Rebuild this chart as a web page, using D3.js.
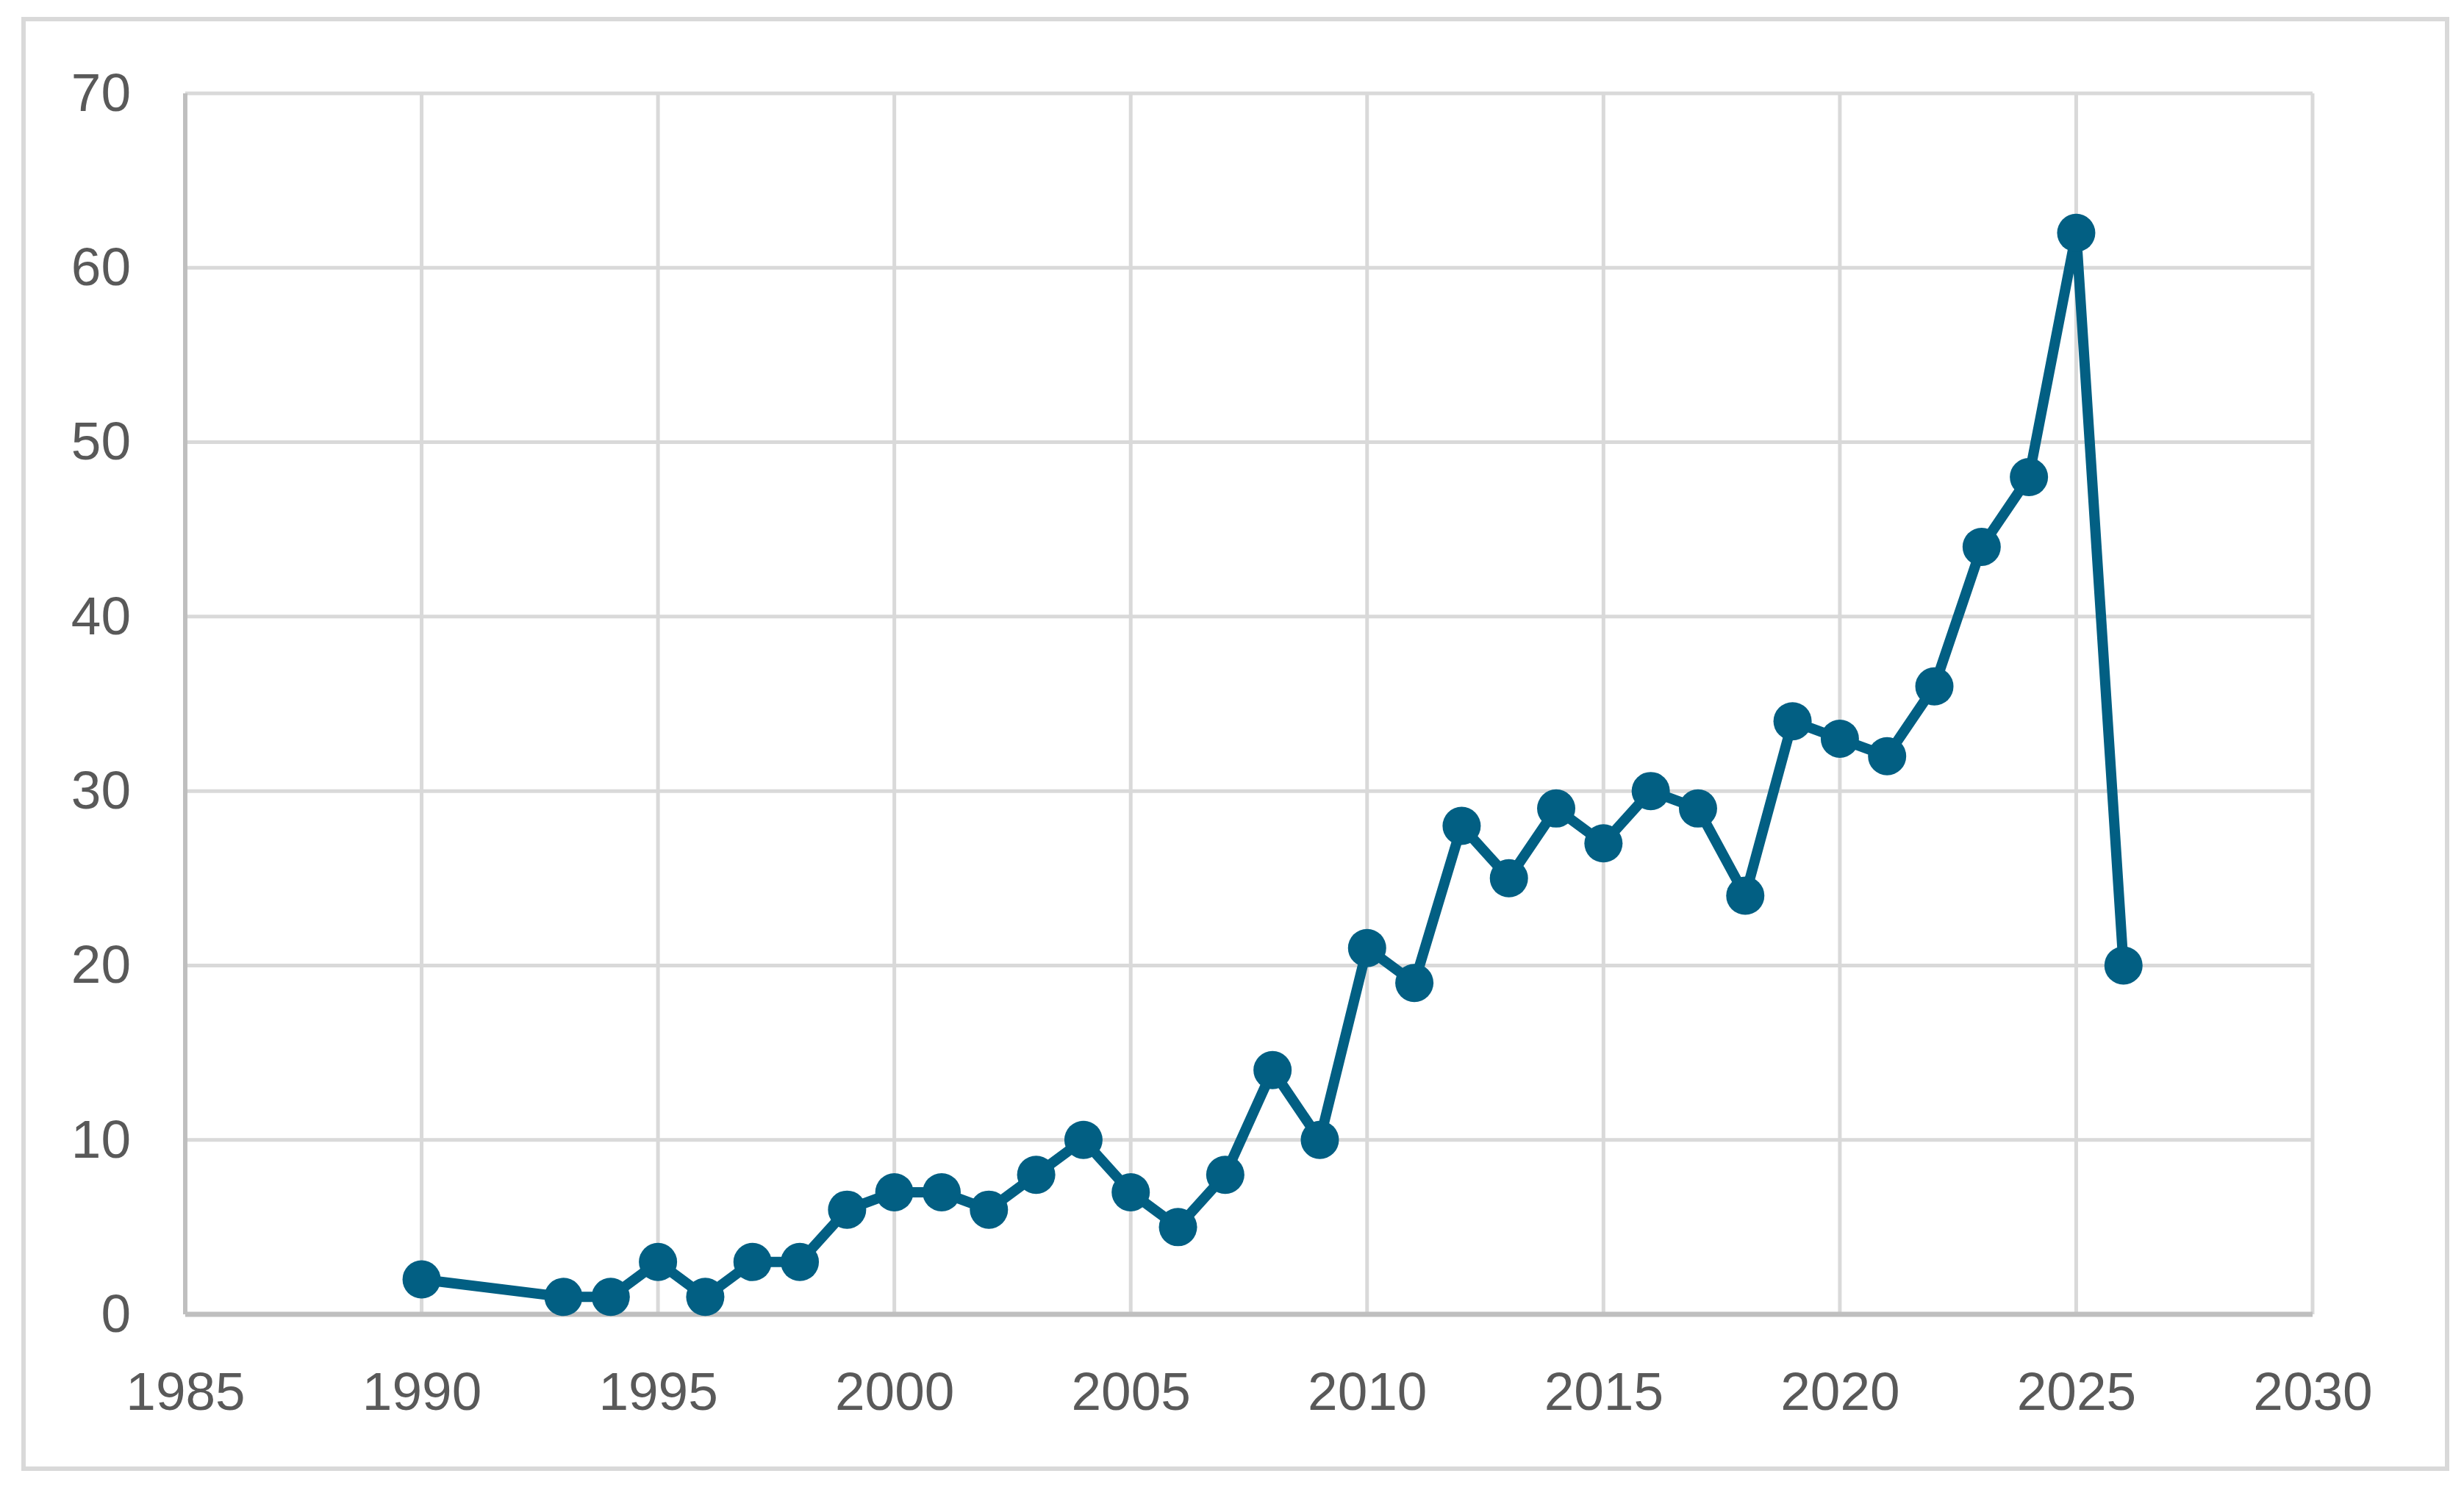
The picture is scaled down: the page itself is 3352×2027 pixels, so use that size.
<html>
<head>
    <title>Line chart</title>
    <script src="https://d3js.org/d3.v7.min.js"></script>
    <style>
        body { margin: 0; background: #fff; }
        svg { font-family: "Liberation Sans", Arial, sans-serif; }
        .grid line { stroke: #d9d9d9; stroke-width: 5; }
        .axis path, .axis line { display: none; }
        .axis text { fill: #595959; font-size: 73px; }
        .line { fill: none; stroke: #025f83; stroke-width: 14; stroke-linejoin: round; }
        .dot { fill: #025f83; }
    </style>
</head>
<body>
<div id="chart"></div>
<script>
    // data
    var years  = [1990, 1993, 1994, 1995, 1996, 1997, 1998, 1999, 2000, 2001, 2002, 2003,
                  2004, 2005, 2006, 2007, 2008, 2009, 2010, 2011, 2012, 2013, 2014, 2015,
                  2016, 2017, 2018, 2019, 2020, 2021, 2022, 2023, 2024, 2025, 2026];
    var counts = [2, 1, 1, 3, 1, 3, 3, 6, 7, 7, 6, 8,
                  10, 7, 5, 8, 14, 10, 21, 19, 28, 25, 29, 27,
                  30, 29, 24, 34, 33, 32, 36, 44, 48, 62, 20];
    var xTicks = [1985, 1990, 1995, 2000, 2005, 2010, 2015, 2020, 2025, 2030];
    var yTicks = [0, 10, 20, 30, 40, 50, 60, 70];

    var width = 3352, height = 2027;
    var plotLeft = 252, plotRight = 3146, plotTop = 127, plotBottom = 1788;

    var data = years.map((yr, i) => ({ year: yr, value: counts[i] }));

    var xScale = d3.scaleLinear().domain([1985, 2030]).range([plotLeft, plotRight]);
    var yScale = d3.scaleLinear().domain([0, 70]).range([plotBottom, plotTop]);

    var svg = d3.select("#chart").append("svg")
        .attr("width", width)
        .attr("height", height);

    svg.append("rect")
        .attr("x", 32).attr("y", 26)
        .attr("width", 3329 - 32).attr("height", 1998 - 26)
        .attr("fill", "#fff")
        .attr("stroke", "#d9d9d9")
        .attr("stroke-width", 6);

    /* gridlines */
    var grid = svg.append("g").attr("class", "grid");
    grid.selectAll(".vg").data(xTicks).enter().append("line")
        .attr("x1", d => xScale(d)).attr("x2", d => xScale(d))
        .attr("y1", plotTop).attr("y2", plotBottom);
    grid.selectAll(".hg").data(yTicks).enter().append("line")
        .attr("x1", plotLeft).attr("x2", plotRight)
        .attr("y1", d => yScale(d)).attr("y2", d => yScale(d));

    // axis lines are a bit darker
    svg.append("line")
        .attr("x1", plotLeft).attr("x2", plotLeft).attr("y1", plotTop).attr("y2", plotBottom)
        .attr("stroke", "#bfbfbf").attr("stroke-width", 6);
    svg.append("line")
        .attr("x1", plotLeft).attr("x2", plotRight).attr("y1", plotBottom).attr("y2", plotBottom)
        .attr("stroke", "#bfbfbf").attr("stroke-width", 7);

    /* axes */
    svg.append("g")
        .attr("class", "axis")
        .attr("transform", `translate(0, ${plotBottom})`)
        .call(d3.axisBottom(xScale).tickValues(xTicks).tickFormat(d3.format("d")).tickSize(0).tickPadding(78));
    svg.append("g")
        .attr("class", "axis")
        .attr("transform", `translate(${plotLeft}, 0)`)
        .call(d3.axisLeft(yScale).tickValues(yTicks).tickSize(0).tickPadding(74));

    /* line + markers */
    var line = d3.line().x(d => xScale(d.year)).y(d => yScale(d.value));
    svg.append("path").datum(data).attr("class", "line").attr("d", line);
    svg.selectAll(".dot").data(data).enter().append("circle")
        .attr("class", "dot")
        .attr("cx", d => xScale(d.year))
        .attr("cy", d => yScale(d.value))
        .attr("r", 26);
</script>
</body>
</html>
